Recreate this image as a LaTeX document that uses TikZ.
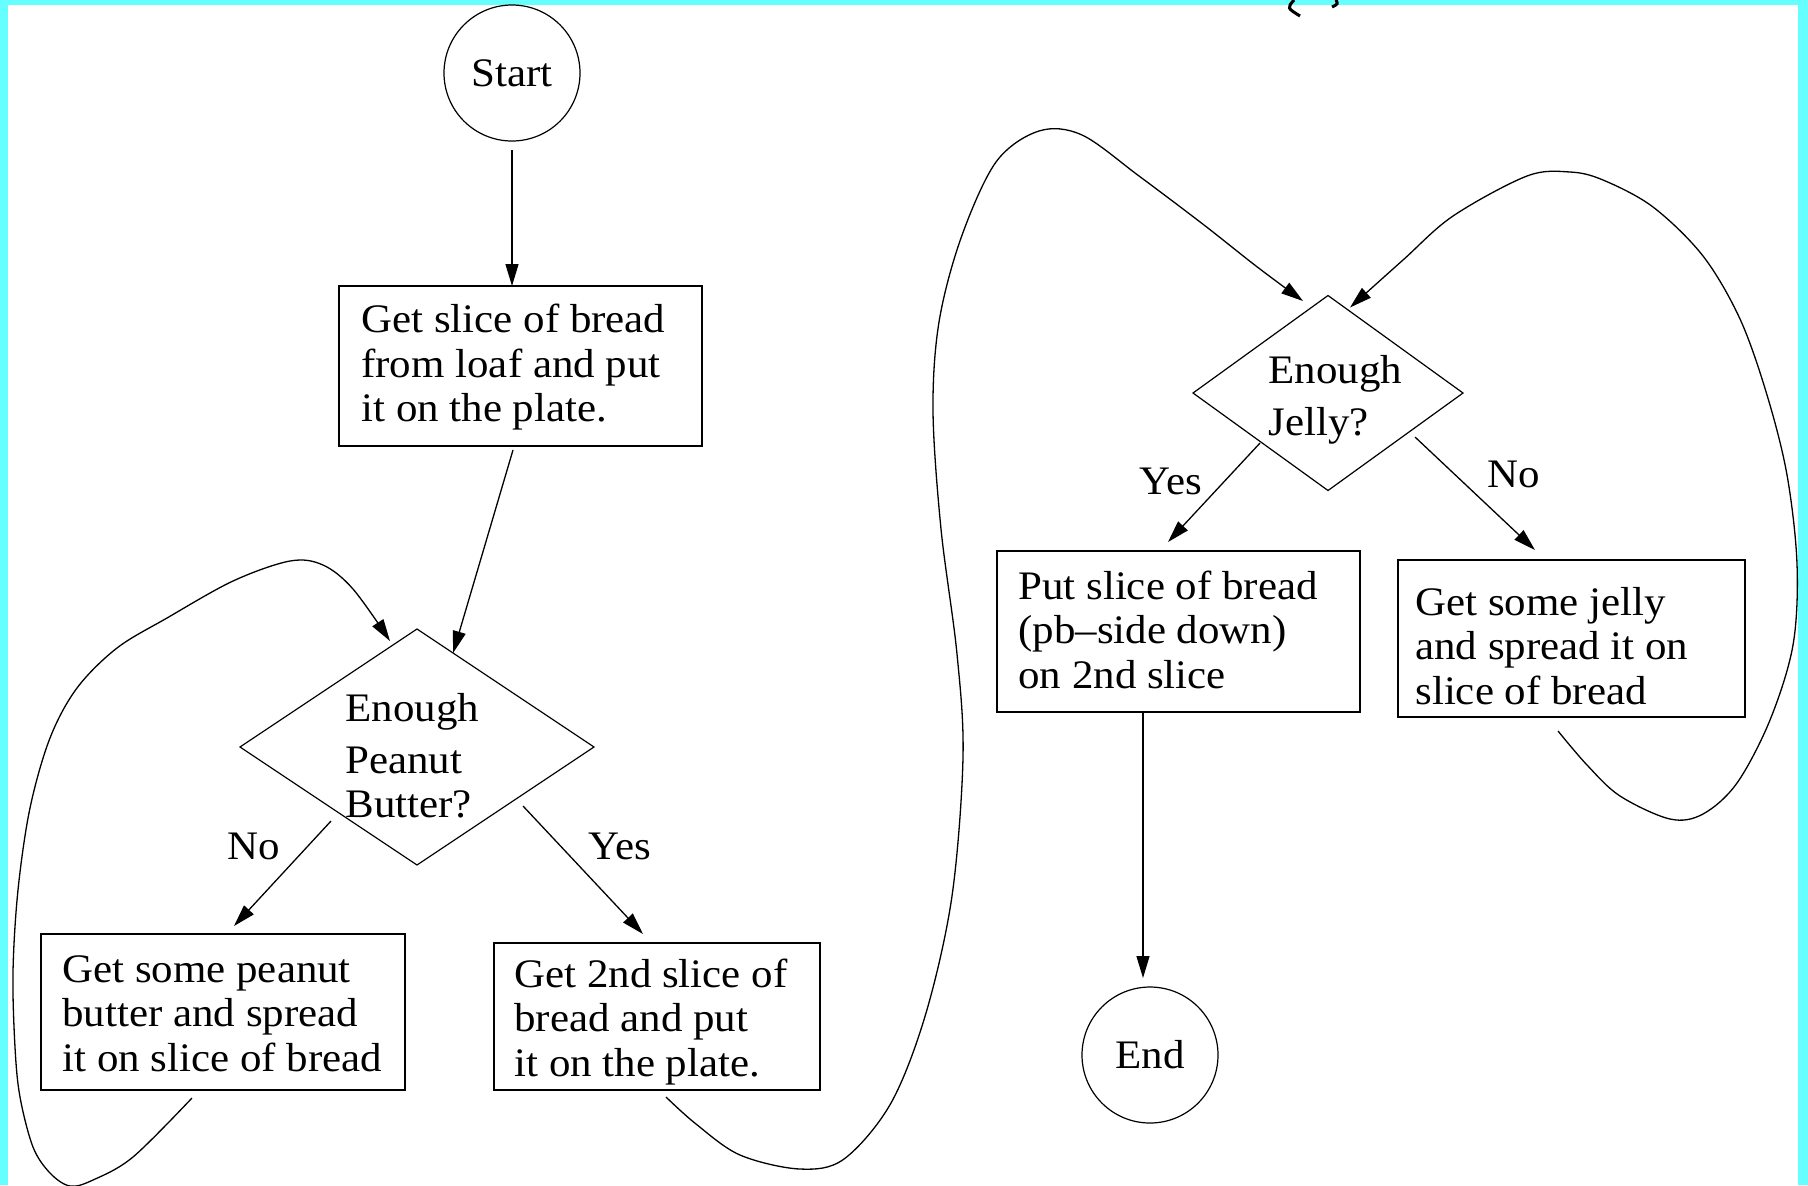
\documentclass[tikz,border=0pt]{standalone}
\usepackage{fontspec}
\setmainfont{Liberation Serif}[FakeStretch=1.06]
\usetikzlibrary{shapes.geometric,arrows.meta,calc}
\definecolor{bgcyan}{RGB}{102,255,255}
\begin{document}
\begin{tikzpicture}[x=0.5pt,y=-0.5pt,
  box/.style={draw, line width=1pt, rectangle, inner sep=0pt, outer sep=0pt},
  dia/.style={draw, line width=0.6pt, diamond, inner sep=0pt, outer sep=0pt},
  term/.style={draw, line width=0.6pt, circle, inner sep=0pt, outer sep=0pt, minimum size=68pt, font=\fontsize{20.25}{22.25}\selectfont},
  txt/.style={inner sep=0pt, align=left, font=\fontsize{20.25}{22.25}\selectfont},
  lbl/.style={inner sep=0pt, font=\fontsize{20.25}{22.25}\selectfont},
  arr/.style={line width=0.65pt, -{Triangle[length=11pt,width=6.5pt]}},
  loop/.style={line width=0.65pt, -{Triangle[length=11pt,width=6.5pt]}}]
\useasboundingbox (0,0) rectangle (1808,1185);
\fill[bgcyan] (0,0) rectangle (1808,1185);
\fill[white] (8,5) rectangle (1798,1185);
% fragments of a cropped title
\draw[line width=1.5pt] (1294,0) .. controls (1287,8) .. (1300,16);
\draw[line width=1.5pt] (1336,0) .. controls (1338,4) .. (1332,7);

% nodes
\node[term] (start) at (512,73) {Start};
\node[box, minimum width=181.5pt, minimum height=80pt] (b1) at (520.5,366) {};
\node[txt, anchor=west] (b1t) at (361,367.5) {Get slice of bread\\from loaf and put\\it on the plate.};
\node[dia, minimum width=177pt, minimum height=118pt] (d1) at (417,747) {};
\node[txt, anchor=west] (d1t) at (345,756) {Enough\\[3.5pt]Peanut\\Butter?};
\node[box, minimum width=182pt, minimum height=78pt] (b2) at (223,1012) {};
\node[txt, anchor=west] (b2t) at (62,1013.5) {Get some peanut\\butter and spread\\it on slice of bread};
\node[box, minimum width=163pt, minimum height=73.5pt] (b3) at (657,1016.5) {};
\node[txt, anchor=west] (b3t) at (514,1022) {Get 2nd slice of\\bread and put\\it on the plate.};
\node[dia, minimum width=135pt, minimum height=97.5pt] (d2) at (1328,393) {};
\node[txt, anchor=west] (d2t) at (1268,400) {Enough\\[3.75pt]Jelly?};
\node[box, minimum width=181.5pt, minimum height=80.5pt] (b4) at (1178.5,631.5) {};
\node[txt, anchor=west] (b4t) at (1018,629.5) {Put slice of bread\\(pb--side down)\\on 2nd slice};
\node[box, minimum width=173.5pt, minimum height=78.5pt] (b5) at (1571.5,638.5) {};
\node[txt, anchor=west] (b5t) at (1415,646) {Get some jelly\\and spread it on\\slice of bread};
\node[term] (end) at (1150,1055) {End};

% labels
\node[lbl, anchor=base west] (no1) at (227,859) {No};
\node[lbl, anchor=base west] (yes1) at (588,859) {Yes};
\node[lbl, anchor=base west] (yes2) at (1139,494) {Yes};
\node[lbl, anchor=base west] (no2) at (1487,487) {No};

% straight connectors
\draw[arr] ([yshift=-4.5pt]start.south) -- (start.south |- b1.north);
\draw[arr] ($(b1.south)+(-7.5,4)$) -- (d1.69);
\draw[arr] ($(d1.center)+(-86,74)$) -- ($(b2.north)+(11,-8)$);
\draw[arr] ($(d1.center)+(106,59)$) -- ($(b3.north)+(-14,-9)$);
\draw[arr] ($(d2.center)+(-68,50)$) -- ($(b4.north)+(-10.5,-9)$);
\draw[arr] ($(d2.center)+(87,44)$) -- ($(b5.north)+(-36.5,-10)$);
\draw[arr] ($(b4.south)+(-35.5,0)$) -- ($(end.north)+(-7,-9)$);

% loop connectors
\coordinate (e1s) at ($(b2.south)+(-31,8)$);
\coordinate (e1e) at ($(d1.north)+(-27,12)$);
\draw[loop] plot[smooth, tension=0.55] coordinates {(e1s) (133,1157) (93,1180) (70,1186) (50,1173) (33,1147) (20,1097) (15,1047) (13,972) (18,890) (30,808) (50,738) (77,688) (117,648) (167,618) (233,581) (290,561) (323,565) (353,589) (e1e)};

\coordinate (e2s) at ($(b3.south)+(9,7)$);
\coordinate (e2e) at ($(d2.north)+(-25,5.5)$);
\draw[loop] plot[smooth, tension=0.55] coordinates {(e2s) (696,1124) (740,1155) (800,1169) (844,1159) (891,1103) (926,1013) (952,896) (963,757) (957,654) (941,529) (933,411) (939,322) (961,238) (996,162) (1039,131) (1082,135) (1139,176) (1204,225) (1256,266) (e2e)};

\coordinate (e3s) at ($(b5.south)+(-13.5,14)$);
\coordinate (e3e) at ($(d2.north)+(22,12)$);
\draw[loop] plot[smooth, tension=0.55] coordinates {(e3s) (1587,765) (1620,796) (1670,819) (1703,814) (1737,783) (1770,720) (1793,645) (1797,564) (1787,475) (1767,395) (1740,319) (1703,256) (1653,207) (1603,180) (1570,172) (1527,176) (1453,216) (1403,260) (e3e)};
\end{tikzpicture}
\end{document}
